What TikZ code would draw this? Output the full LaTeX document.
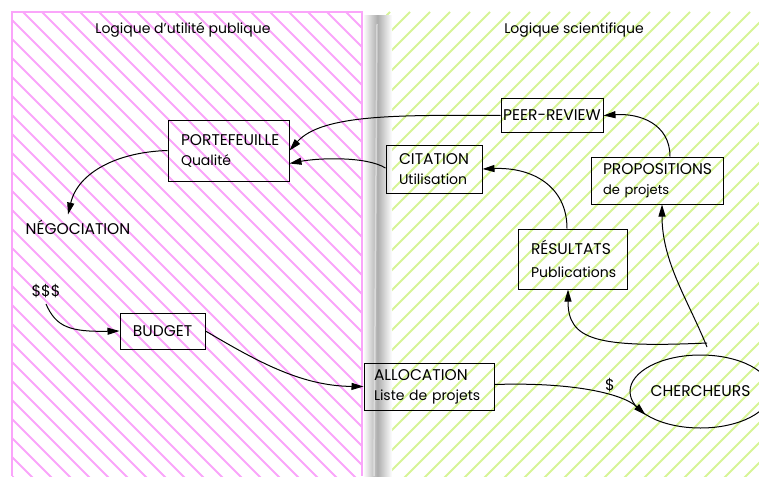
\documentclass[tikz,border=0pt]{standalone}
\usepackage{fontspec}
\setmainfont{Poppins}
\usetikzlibrary{arrows.meta,shapes.geometric}
\definecolor{pinkhatch}{RGB}{250,165,250}
\definecolor{greenhatch}{RGB}{214,244,150}
% lowercase lines, capital lines, smaller second line, titles
\newcommand\lbl{\fontsize{14}{20}\selectfont}
\newcommand\uc{\fontsize{15.5}{20}\selectfont}
\newcommand\smalllbl{\fontsize{13}{20}\selectfont}
\newcommand\ttl{\fontsize{14}{16}\selectfont}
\tikzset{
  box/.style={draw, line width=1pt, rectangle, align=left, inner ysep=0pt, font=\lbl},
  onebox/.style={draw, line width=1pt, rectangle, inner sep=0pt, font=\uc},
  plain/.style={inner sep=0pt, font=\uc},
  arr/.style={line width=1pt, -{Triangle[length=12pt,width=7pt]}},
}
\begin{document}
\begin{tikzpicture}[x=1pt,y=-1pt]
\useasboundingbox (0,0) rectangle (759,476);

% public-utility side: pink hatching
\begin{scope}
  \clip (12,12) rectangle (362,476);
  \foreach \i in {-26,...,20}
    \draw[pinkhatch, line width=1.8pt] (4+\i*19,12) -- ++(470,470);
\end{scope}
\draw[pinkhatch, line width=1.5pt] (12,476) -- (12,12) -- (362,12) -- (362,476);

% scientific side: green hatching
\begin{scope}
  \clip (386,12) rectangle (759,476);
  \foreach \i in {-17,...,28}
    \draw[greenhatch, line width=1.8pt] (690+\i*20,12) -- ++(-470,470);
\end{scope}

% grey divider
\shade[left color=white, right color=white, middle color=black!32] (363,16) rectangle (392,476);
\draw[white, opacity=0.45, line width=1.5pt] (377,24) -- (374,476);

% titles
\node[font=\ttl] (t1) at (183,30) {Logique d'utilité publique};
\node[font=\ttl] (t2) at (574,30) {Logique scientifique};

% boxes
\node[box, inner xsep=13pt, text width=95pt, minimum height=61pt] (port) at (228.5,150.5) {{\uc PORTEFEUILLE}\\Qualité};
\node[box, inner xsep=13pt, text width=70pt, minimum height=48pt] (cit) at (434,169) {{\uc CITATION}\\Utilisation};
\node[onebox, minimum width=102pt, minimum height=33pt] (peer) at (552,115.5) {PEER-REVIEW};
\node[box, inner xsep=12pt, text width=108pt, minimum height=47pt] (prop) at (657,180.5) {{\uc PROPOSITIONS}\\{\smalllbl de projets}};
\node[box, inner xsep=13pt, text width=83pt, minimum height=60pt, font=\fontsize{14}{23}\selectfont] (res) at (572.5,259) {{\uc RÉSULTATS}\\Publications};
\node[onebox, minimum width=85pt, minimum height=36pt] (bud) at (162.5,331) {BUDGET};
\node[box, inner xsep=10pt, text width=110pt, minimum height=47pt] (alloc) at (429,386.5) {{\uc ALLOCATION}\\Liste de projets};
\node[draw, line width=1pt, ellipse, inner sep=0pt, minimum width=115pt, minimum height=73pt, font=\uc] (cher) at (700.5,391.5) {CHERCHEURS};

% free labels
\node[plain] (neg) at (78,227) {NÉGOCIATION};
\node[plain] (money) at (46,291) {\$\$\$};
\node[plain] (dollar) at (610,385) {\$};
\coordinate (fork) at (707,345);

% connectors
\draw[arr] (peer.west) .. controls (400,115) and (322,114) .. (port.east);
\draw[arr] ([yshift=1pt]cit.west) .. controls (366,156) and (318,158) .. ([yshift=-13pt]port.east);
\draw[arr] (port.west) .. controls (118,152) and (78,172) .. ([xshift=-10pt,yshift=5pt]neg.north);
\draw[arr] ([yshift=-6pt]money.south) .. controls (56,327) and (70,332) .. (bud.west);
\draw[arr] (bud.east) .. controls (255,360) and (300,386) .. (alloc.west);
\draw[arr] ([yshift=2pt]alloc.east) .. controls (570,382) and (622,393) .. (cher.203);
\draw[arr] ([xshift=-5.5pt]res.north) .. controls (567,186) and (532,167) .. (cit.east);
\draw[arr] ([xshift=13pt]prop.north) .. controls (670,124) and (640,113) .. (peer.east);
\draw[arr] ([yshift=2pt]fork) .. controls (596,348) and (568,340) .. ([xshift=-4.5pt]res.south);
\draw[arr] ([yshift=-2pt]fork) .. controls (688,300) and (662,262) .. ([xshift=5pt]prop.south);
\end{tikzpicture}
\end{document}
